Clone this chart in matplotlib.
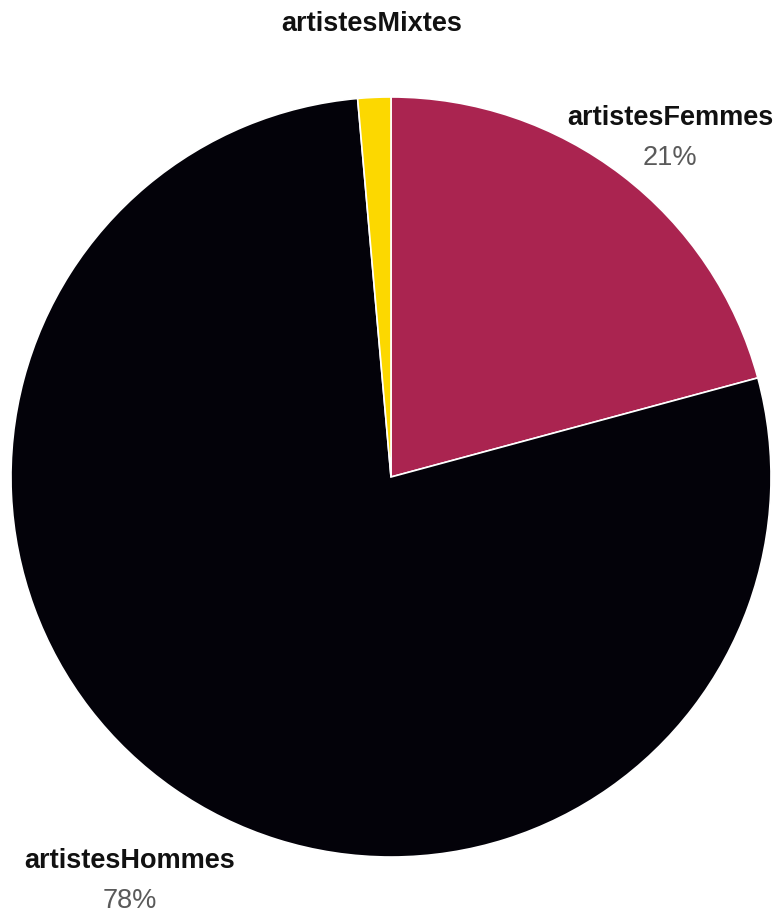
import matplotlib.pyplot as plt

# share of artists by gender
labels = ['artistesFemmes', 'artistesHommes', 'artistesMixtes']
values = [20.8, 77.8, 1.4]
colors = ['#aa2450', '#030209', '#fcd800']
show_pct = [True, True, False]

# label anchor points in pixel coords (top-left origin)
label_pos = [(670, 118), (130, 861), (372, 24)]

W, H = 776, 915
fig = plt.figure(figsize=(W / 100, H / 100), dpi=100)
ax = fig.add_axes([0, 0, 1, 1])

cx, cy, r = 391, H - 477, 380
ax.pie(values, colors=colors, startangle=90, counterclock=False,
       center=(cx, cy), radius=r, frame=True,
       wedgeprops=dict(edgecolor='white', linewidth=1.2))
ax.set_xlim(0, W)
ax.set_ylim(0, H)
ax.set_aspect('equal')
ax.axis('off')

for lab, v, show, (x, y) in zip(labels, values, show_pct, label_pos):
    ax.text(x, H - y, lab, ha='center', va='center', fontsize=19.5,
            fontweight='bold', family='Liberation Sans', color='#111111')
    if show:
        ax.text(x, H - y - 40, f'{v:.0f}%', ha='center', va='center',
                fontsize=19.5, family='Liberation Sans', color='#5a5a5a')

fig.savefig('out.png', dpi=100)
